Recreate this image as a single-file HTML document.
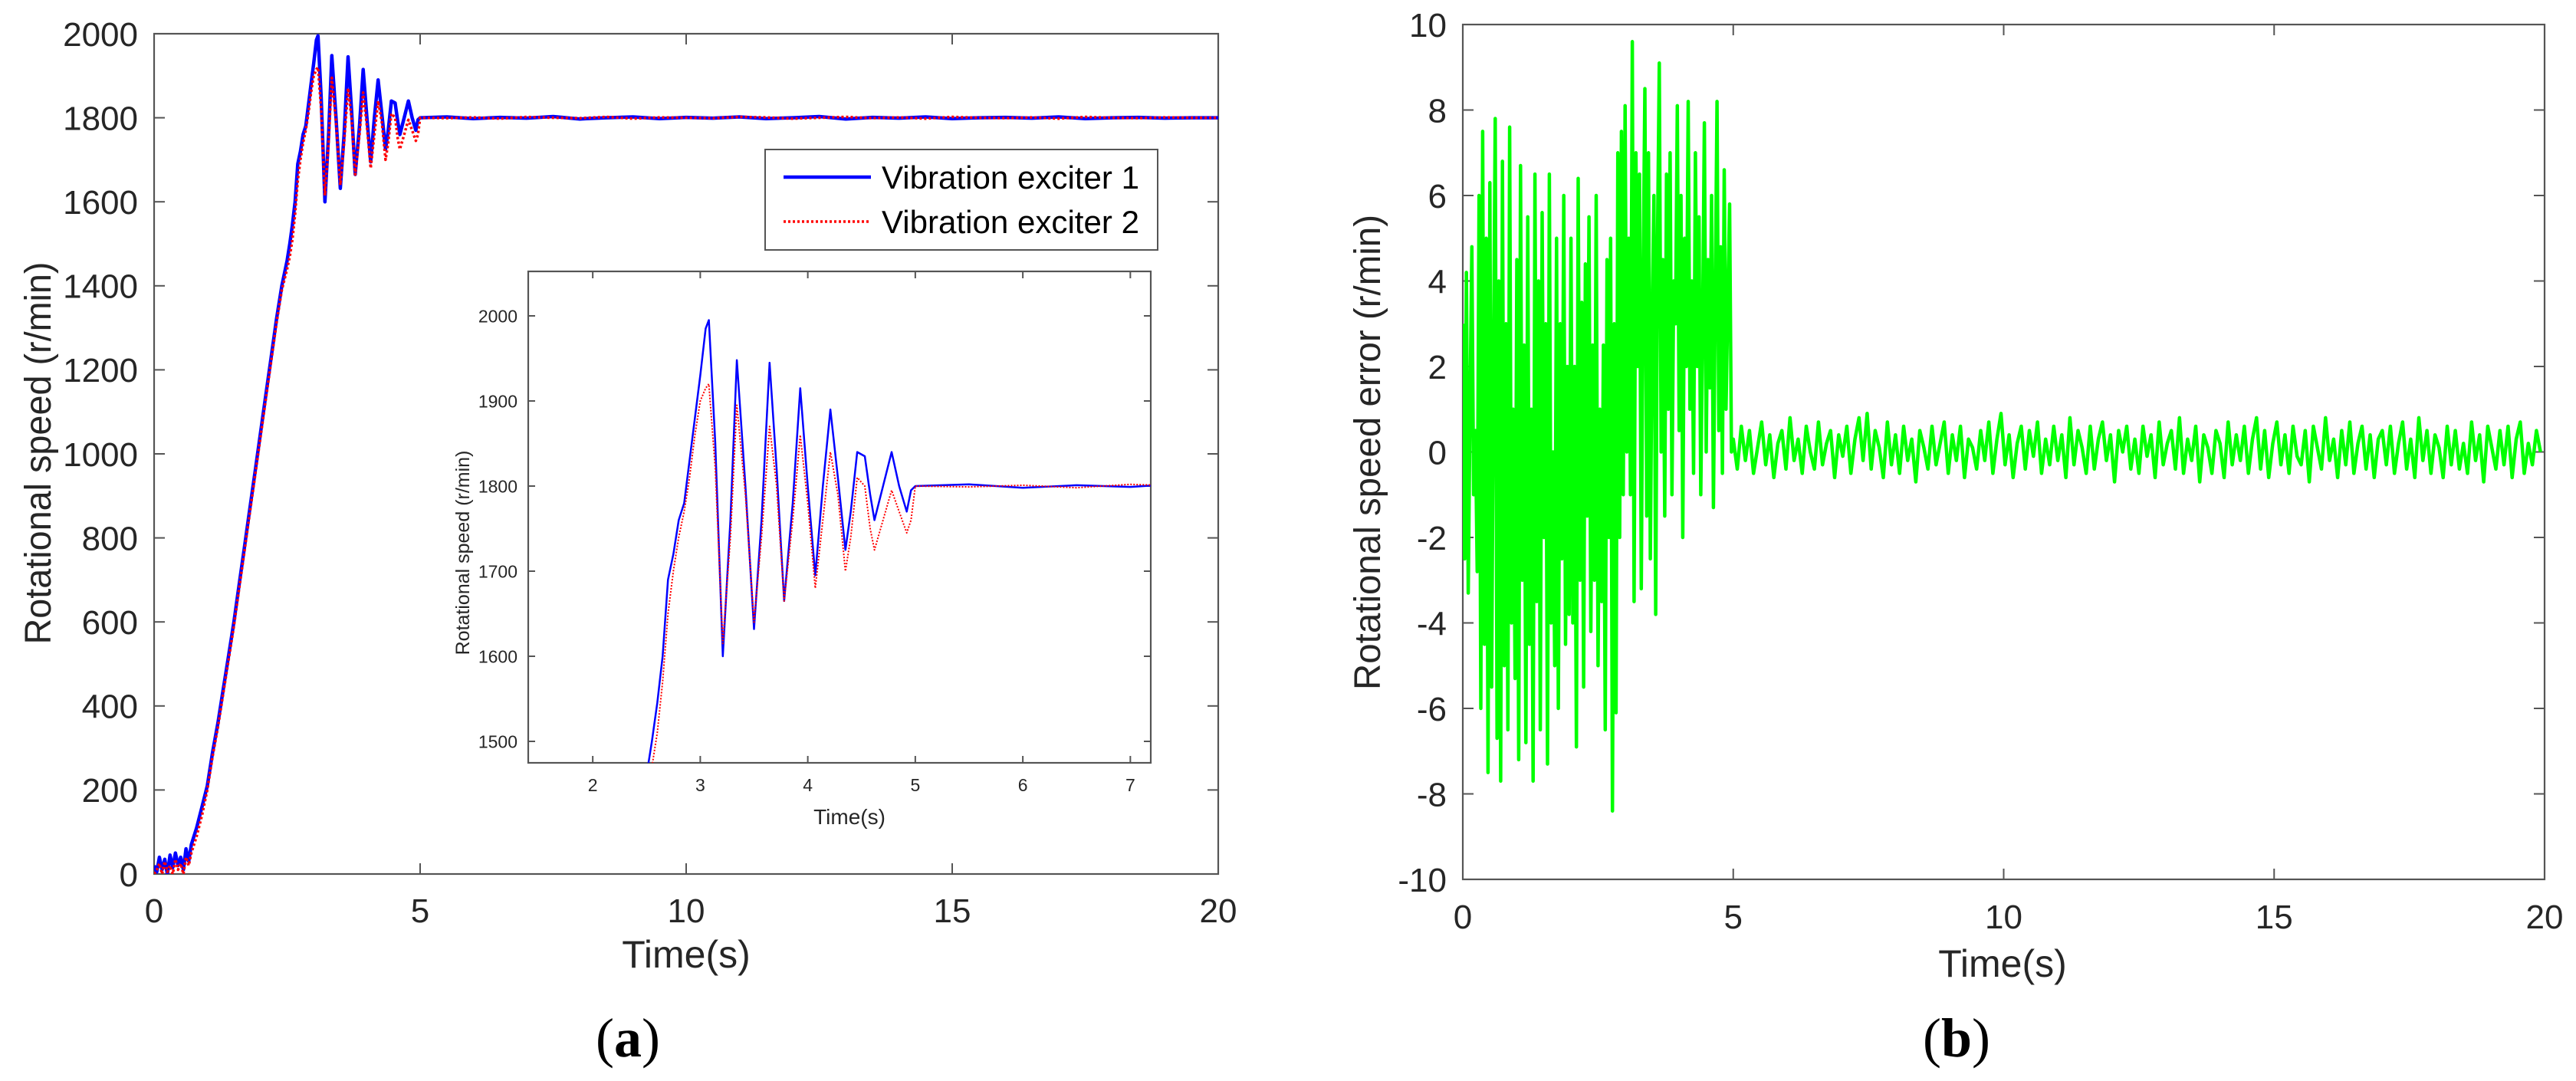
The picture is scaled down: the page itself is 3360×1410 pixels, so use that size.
<!DOCTYPE html>
<html><head><meta charset="utf-8"><style>
html,body{margin:0;padding:0;background:#fff;overflow:hidden;width:3360px;height:1410px;}
svg{display:block;}
svg text{font-family:"Liberation Sans",sans-serif;fill:#262626;}
</style></head><body>
<svg id="fig" width="3360" height="1410" viewBox="0 0 3360 1410" xmlns="http://www.w3.org/2000/svg">
<defs>
<clipPath id="clipA"><rect x="201" y="44" width="1388" height="1096"/></clipPath>
<clipPath id="clipI"><rect x="689" y="354" width="812" height="641"/></clipPath>
<clipPath id="clipB"><rect x="1908" y="32" width="1411" height="1115"/></clipPath>
</defs>
<g id="panelA"></g>
<g id="panelB"></g>
</svg>
<script>
const speedTime=[0,0.05,0.1,0.15,0.2,0.25,0.3,0.35,0.4,0.45,0.5,0.55,0.6,0.65,0.7,
0.8,0.9,1.0,1.1,1.2,1.3,1.4,1.5,1.6,1.7,1.8,1.9,2.0,2.1,2.2,2.3,2.4,2.5,
2.55,2.6,2.65,2.7,2.75,2.8,2.85,2.9,2.95,3.0,3.05,
3.08,3.14,3.21,3.28,3.34,3.42,3.5,3.57,3.645,3.71,3.78,3.86,3.93,4.0,4.07,4.14,4.21,4.28,4.35,4.4,4.46,4.53,4.58,4.62,4.7,4.78,4.85,4.92,4.96,5.0,
5.5,6,6.5,7,7.5,8,8.5,9,9.5,10,10.5,11,11.5,12,12.5,13,13.5,14,14.5,15,15.5,16,16.5,17,17.5,18,18.5,19,19.5,20];
const exciter1=[20,5,40,10,35,0,45,15,50,20,40,10,60,30,70,
110,160,210,290,360,440,520,600,690,780,870,960,1050,1140,1230,1320,1400,1460,
1500,1545,1600,1690,1720,1760,1780,1830,1880,1930,1985,
1995,1850,1600,1760,1948,1800,1632,1760,1945,1820,1665,1780,1915,1800,1695,1800,1890,1810,1725,1770,1840,1835,1790,1760,1800,1840,1800,1770,1795,1800,
1802,1798,1801,1799,1803,1797,1800,1802,1798,1801,1799,1802,1798,1800,1803,1797,1801,1799,1802,1798,1800,1801,1799,1802,1798,1800,1801,1799,1800,1800];
const exciter2=[0,10,25,0,30,5,20,0,35,10,25,0,40,20,50,
90,140,200,280,350,430,510,590,680,770,860,950,1040,1130,1220,1310,1390,1440,
1470,1510,1570,1650,1700,1740,1770,1810,1860,1900,1915,
1920,1820,1615,1740,1895,1790,1640,1740,1870,1800,1665,1760,1860,1780,1680,1760,1840,1790,1700,1740,1810,1800,1750,1725,1760,1795,1770,1745,1760,1800,
1799,1801,1798,1802,1800,1799,1802,1798,1801,1800,1799,1802,1801,1798,1800,1802,1799,1801,1798,1802,1800,1799,1801,1798,1802,1800,1799,1801,1800,1800];
const speedYTicks=[0,200,400,600,800,1000,1200,1400,1600,1800,2000];
const timeTicks=[0,5,10,15,20];
const insetXTicks=[2,3,4,5,6,7];
const insetYTicks=[1500,1600,1700,1800,1900,2000];
const errTicks=[-10,-8,-6,-4,-2,0,2,4,6,8,10];
const errTransient=[3,-2.5,4.2,-3.3,1,4.8,-1,0.5,-2.8,6,-6,7.5,-4.5,5,-7.5,6.3,-5.5,2,7.8,-6.7,4,-7.7,6.8,-5,3,-6.5,7.6,-4,1,-5.3,
4.5,-7.2,6.7,-3,2.5,-6.8,5.5,-4.5,1,-7.7,6.5,-3.5,4,-6.5,5.6,-2,3,-7.3,6.5,-4,0,-5,5,-6,3,-2.5,6,-4.5,2,-3.8,
5,-4,2,-6.9,6.4,-3,3.5,-5.5,4.4,-1.5,5.5,-4.2,2.5,-3,6,-5,1,-3.5,2.5,-6.5,4.5,-2,5,-8.4,3,-6.1,7,-2,7.5,-1,
8.1,0,5,-1,9.6,-3.5,7,2,6.5,-3.2,4,8.5,-1.5,7,-2.5,3,6,-3.8,5,9.1,0,4.5,-1.5,6.5,1,7,-1,4,3,8.1,
0.5,6,-2,5,2,8.2,1,4,-0.5,7,2,5.5,-1,3,7.7,0,4.5,1.5,6,-1.3,3.5,8.2,0.5,4.8,-0.5,6.6,1,3.5,5.8,0];
const errSteady=[0.3,-0.4,0.6,-0.2,0.5,-0.5,0.1,0.7,-0.3,0.4,-0.6,0.2,0.5,-0.4,0.8,-0.2,0.3,-0.5,0.6,0,
-0.4,0.7,-0.3,0.2,0.5,-0.6,0.4,-0.1,0.6,-0.5,0.3,0.8,-0.2,0.9,-0.4,0.5,0.1,-0.6,0.7,-0.3,
0.4,-0.5,0.6,-0.2,0.3,-0.7,0.5,0.1,-0.4,0.6,-0.3,0.2,0.7,-0.5,0.4,-0.2,0.6,-0.6,0.3,0.1,
-0.4,0.5,-0.2,0.7,-0.5,0.3,0.9,-0.3,0.4,-0.6,0.2,0.6,-0.4,0.5,-0.1,0.7,-0.5,0.3,-0.3,0.6,
-0.2,0.4,-0.6,0.8,-0.3,0.5,0.1,-0.5,0.6,-0.4,0.3,0.7,-0.2,0.4,-0.7,0.5,0,0.6,-0.4,0.3,
-0.5,0.6,-0.1,0.4,-0.6,0.7,-0.3,0.2,0.5,-0.4,0.8,-0.5,0.3,-0.2,0.6,-0.7,0.4,0.1,-0.5,0.5,
0.2,-0.6,0.7,-0.3,0.4,-0.2,0.6,-0.5,0.3,0.8,-0.4,0.5,-0.6,0.2,0.7,-0.3,0.4,-0.5,0.6,-0.1,
-0.3,0.5,-0.7,0.6,0.1,-0.4,0.8,-0.2,0.3,-0.6,0.5,-0.3,0.7,-0.5,0.2,0.6,-0.4,0.4,-0.6,0.3,
0.5,-0.3,0.6,-0.5,0.2,0.7,-0.4,0.3,-0.6,0.8,-0.2,0.5,-0.5,0.4,0.1,-0.6,0.6,-0.3,0.5,-0.4,
0.2,-0.5,0.7,-0.2,0.4,-0.7,0.6,0.1,-0.4,0.5,-0.3,0.6,-0.6,0.3,0.7,-0.5,0.2,-0.3,0.5,0];

const NS='http://www.w3.org/2000/svg';
function mk(parent,tag,attrs,text){const e=document.createElementNS(NS,tag);for(const k in attrs)e.setAttribute(k,attrs[k]);if(text!==undefined)e.textContent=text;parent.appendChild(e);return e;}
function lin(d0,d1,r0,r1){return v=>r0+(v-d0)/(d1-d0)*(r1-r0);}

function axesBox(g,x0,y0,x1,y1,xs,ys,xt,yt,tick,fs,xlabY,ylabX,name){
  const box=mk(g,'rect',{x:x0,y:y0,width:x1-x0,height:y1-y0,fill:'none',stroke:'#555',"stroke-width":2.2});
  
  
  const gx=mk(g,'g',{});
  
  
  xt.forEach(v=>{const x=xs(v);
    mk(gx,'line',{x1:x,y1:y1,x2:x,y2:y1-tick,stroke:'#555',"stroke-width":2});
    mk(gx,'line',{x1:x,y1:y0,x2:x,y2:y0+tick,stroke:'#555',"stroke-width":2});
    const t=mk(gx,'text',{x:x,y:xlabY,"font-size":fs,"text-anchor":"middle"},String(v));
    
    
  });
  const gy=mk(g,'g',{});
  
  
  yt.forEach(v=>{const y=ys(v);
    mk(gy,'line',{x1:x0,y1:y,x2:x0+tick,y2:y,stroke:'#555',"stroke-width":2});
    mk(gy,'line',{x1:x1,y1:y,x2:x1-tick,y2:y,stroke:'#555',"stroke-width":2});
    const t=mk(gy,'text',{x:ylabX,y:y+fs*0.36,"font-size":fs,"text-anchor":"end"},String(v));
    
    
  });
}
function line(g,xs,ys,tArr,vArr,attrs,name,clip,tMin,tMax){
  const pts=[];
  tArr.forEach((t,i)=>{ if(tMin===undefined || (t>=tMin && t<=tMax)) pts.push([xs(t),ys(vArr[i])]); });
  const d=pts.map((p,i)=>(i?'L':'M')+p[0].toFixed(1)+','+p[1].toFixed(1)).join('');
  const p=mk(g,'path',Object.assign({d:d,fill:'none',"clip-path":'url(#'+clip+')',"stroke-linejoin":"round"},attrs));
  
  
  return p;
}

// Panel A
const gA=document.getElementById('panelA');
const xA=lin(0,20,201,1589), yA=lin(0,2000,1140,44);
axesBox(gA,201,44,1589,1140,xA,yA,timeTicks,speedYTicks,14,44,1203,180,'main');
line(gA,xA,yA,speedTime,exciter1,{stroke:'#0000ff',"stroke-width":4.5},'exciter1-line','clipA');
line(gA,xA,yA,speedTime,exciter2,{stroke:'#ff0000',"stroke-width":3.5,"stroke-dasharray":"3,3"},'exciter2-line','clipA');
let t=mk(gA,'text',{x:895,y:1262,"font-size":50,"text-anchor":"middle"},'Time(s)');

t=mk(gA,'text',{x:0,y:0,"font-size":48,"text-anchor":"middle",transform:'translate(66,591) rotate(-90)',textLength:499,lengthAdjust:'spacingAndGlyphs'},'Rotational speed (r/min)');

t=mk(gA,'text',{x:819,y:1378,"font-size":72,"text-anchor":"middle",style:'font-family:"Liberation Serif",serif;fill:#000'},'');

mk(t,'tspan',{},'(');mk(t,'tspan',{"font-weight":"bold"},'a');mk(t,'tspan',{},')');

// legend
const lg=mk(gA,'g',{});


mk(lg,'rect',{x:998,y:195,width:512,height:131,fill:'#fff',stroke:'#555',"stroke-width":2});
mk(lg,'line',{x1:1022,y1:231,x2:1136,y2:231,stroke:'#0000ff',"stroke-width":4.5});
mk(lg,'line',{x1:1022,y1:289,x2:1136,y2:289,stroke:'#ff0000',"stroke-width":3.5,"stroke-dasharray":"3,3"});
t=mk(lg,'text',{x:1150,y:246,"font-size":42,style:'fill:#000',textLength:336,lengthAdjust:'spacingAndGlyphs'},'Vibration exciter 1');

t=mk(lg,'text',{x:1150,y:304,"font-size":42,style:'fill:#000',textLength:336,lengthAdjust:'spacingAndGlyphs'},'Vibration exciter 2');


// inset
const gI=mk(gA,'g',{});


mk(gI,'rect',{x:689,y:354,width:812,height:641,fill:'#fff'});
const xI=lin(1.4,7.19,689,1501), yI=lin(1500,2000,967,412);
axesBox(gI,689,354,1501,995,xI,yI,insetXTicks,insetYTicks,9,23,1032,675,'inset');
line(gI,xI,yI,speedTime,exciter1,{stroke:'#0000ff',"stroke-width":2.5},'inset-exciter1-line','clipI',2.4,7.5);
line(gI,xI,yI,speedTime,exciter2,{stroke:'#ff0000',"stroke-width":2,"stroke-dasharray":"2,2"},'inset-exciter2-line','clipI',2.4,7.5);
t=mk(gI,'text',{x:1108,y:1075,"font-size":28,"text-anchor":"middle"},'Time(s)');

t=mk(gI,'text',{x:0,y:0,"font-size":25,"text-anchor":"middle",transform:'translate(612,721) rotate(-90)'},'Rotational speed (r/min)');


// Panel B
const gB=document.getElementById('panelB');
const xB=lin(0,20,1908,3319), yB=lin(-10,10,1147,32);
axesBox(gB,1908,32,3319,1147,xB,yB,timeTicks,errTicks,14,44,1211,1887,'error');
const dtA=5/errTransient.length, dtB=15/errSteady.length;
const errTime=[], errVal=[];
errTransient.forEach((v,i)=>{errTime.push(i*dtA);errVal.push(v);});
errSteady.forEach((v,i)=>{errTime.push(5+i*dtB);errVal.push(v);});
line(gB,xB,yB,errTime,errVal,{stroke:'#00ff00',"stroke-width":4.5},'speed-error-line','clipB');
t=mk(gB,'text',{x:2612,y:1274,"font-size":50,"text-anchor":"middle"},'Time(s)');

t=mk(gB,'text',{x:0,y:0,"font-size":48,"text-anchor":"middle",transform:'translate(1800,590) rotate(-90)',textLength:620,lengthAdjust:'spacingAndGlyphs'},'Rotational speed error (r/min)');

t=mk(gB,'text',{x:2552,y:1378,"font-size":72,"text-anchor":"middle",style:'font-family:"Liberation Serif",serif;fill:#000'},'');

mk(t,'tspan',{},'(');mk(t,'tspan',{"font-weight":"bold"},'b');mk(t,'tspan',{},')');
</script>
</body></html>
